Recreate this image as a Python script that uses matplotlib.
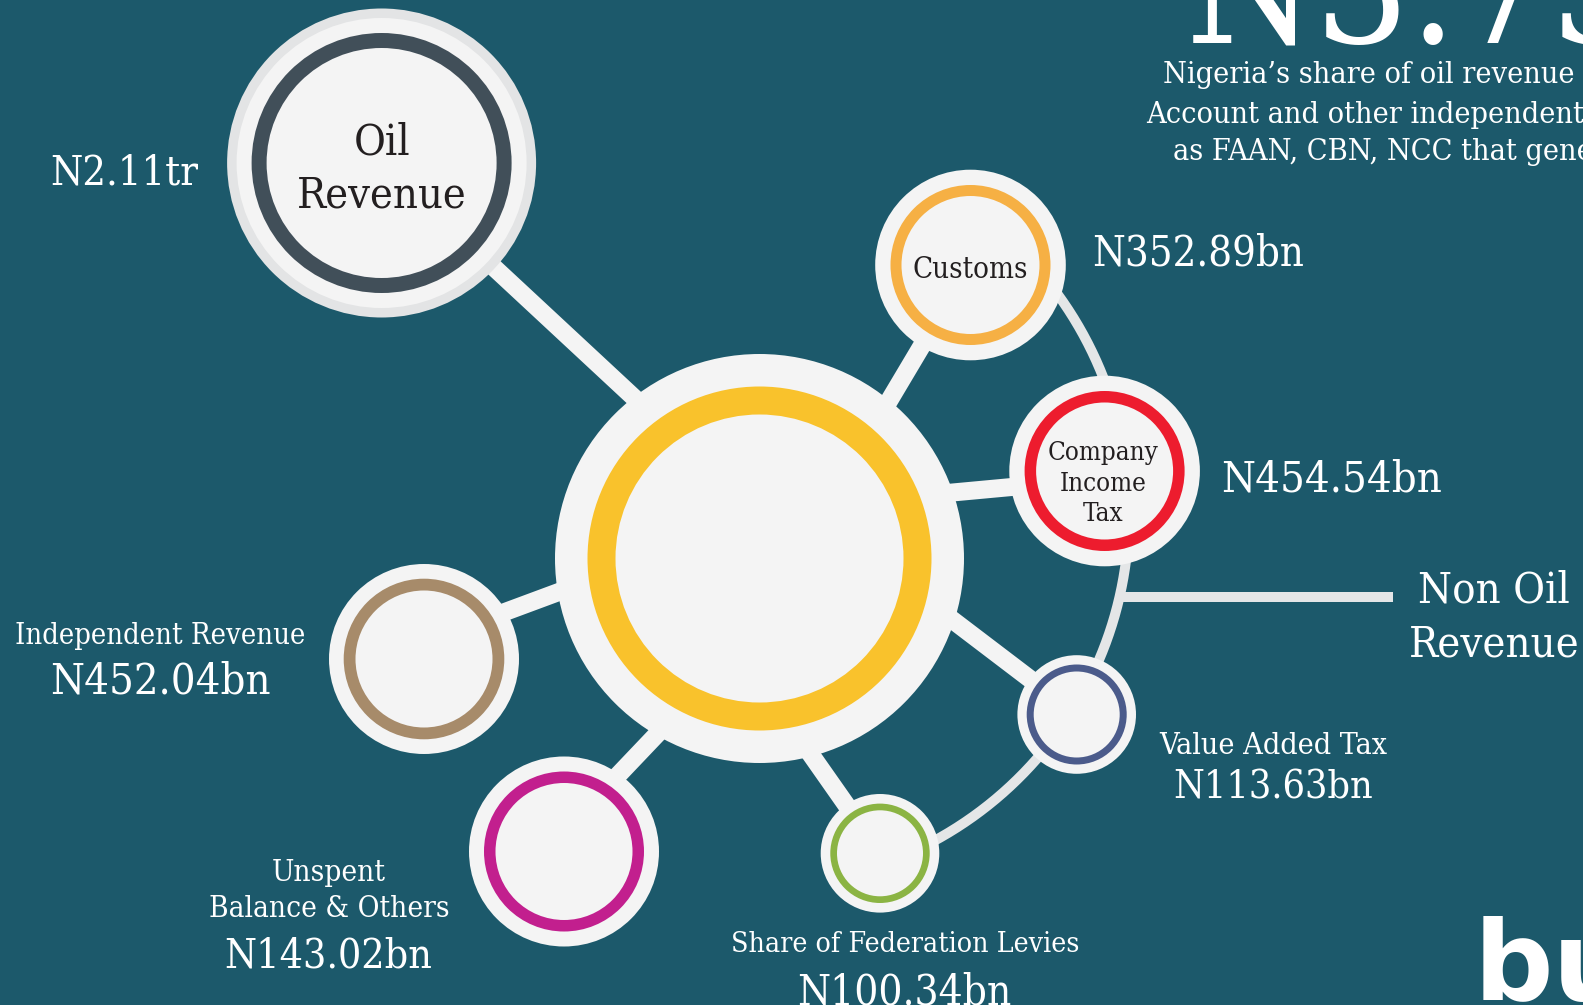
import matplotlib
matplotlib.use("Agg")
import matplotlib.pyplot as plt
from matplotlib.patches import Circle
import numpy as np

# ---------------- data ----------------
categories = ["Oil Revenue", "Customs", "Company Income Tax", "Independent Revenue",
              "Unspent Balance & Others", "Value Added Tax", "Share of Federation Levies"]
values_bn = [2110.0, 352.89, 454.54, 452.04, 143.02, 113.63, 100.34]
total_label = "N3.73tr"
intro_lines = ["Nigeria\u2019s share of oil revenue from the Federation",
               "Account and other independent revenue sources such",
               "as FAAN, CBN, NCC that generate revenue"]


def money(v):
    return f"N{v/1000:.2f}tr" if v >= 1000 else f"N{v:.2f}bn"


value_labels = [money(v) for v in values_bn]

# ---------------- style / layout ----------------
W, H = 1583, 1005
BG = "#1c596b"
WHITE = "#f4f4f4"
LINE = "#e4e6e7"
DARK = "#231f20"
FONT = ["DejaVu Serif Condensed", "DejaVu Serif"]
STRETCH = "condensed"

# node layout: centre x, centre y, outer radius, ring outer, ring inner, ring colour
nodes = {
    "Oil Revenue": (381.6, 163.0, 145.0, 130.0, 115.0, "#414f59"),
    "Customs": (970.5, 265.0, 95.3, 80.0, 69.0, "#f6b044"),
    "Company Income Tax": (1104.6, 471.0, 95.3, 80.0, 68.5, "#ed1c2e"),
    "Independent Revenue": (424.0, 659.0, 95.0, 80.3, 68.5, "#a78b6a"),
    "Unspent Balance & Others": (564.0, 851.5, 95.0, 80.0, 68.5, "#c21f8e"),
    "Value Added Tax": (1076.7, 714.5, 59.3, 50.0, 43.0, "#4b5b8b"),
    "Share of Federation Levies": (880.0, 853.3, 59.3, 49.7, 43.0, "#8bb443"),
}
hub = (759.5, 558.5, 204.5, 172.0, 144.0, "#f9c22c")
# spoke end points (start inside node, end inside hub)
spokes = {
    "Oil Revenue": ((381.6, 163.0), (700, 459)),
    "Customs": ((969.0, 266.5), (850, 466.5)),
    "Company Income Tax": ((1104.6, 478.4), (850, 502)),
    "Independent Revenue": ((424.0, 642.0), (680, 547)),
    "Unspent Balance & Others": ((564.0, 832.0), (720, 668)),
    "Share of Federation Levies": ((880.0, 853.0), (760, 682)),
    "Value Added Tax": ((1076.7, 714.5), (850, 542)),
}
arc_c, arc_r, arc_t0, arc_t1 = (756.5, 513.5), 372.5, -45, 66

fig = plt.figure(figsize=(W / 100, H / 100), dpi=100)
fig.patch.set_facecolor(BG)
ax = fig.add_axes([0, 0, 1, 1])
ax.set_xlim(0, W)
ax.set_ylim(H, 0)
ax.axis("off")
ax.set_facecolor(BG)
renderer = fig.canvas.get_renderer()

PT = 72 / 100  # points per pixel

# arc connecting non-oil nodes
th = np.radians(np.linspace(arc_t0, arc_t1, 300))
ax.plot(arc_c[0] + arc_r * np.cos(th), arc_c[1] + arc_r * np.sin(th),
        color=LINE, lw=10 * PT, solid_capstyle="butt", zorder=1)
# non-oil branch
y_no = 597
x_arc = arc_c[0] + np.sqrt(arc_r ** 2 - (y_no - arc_c[1]) ** 2)
ax.plot([x_arc - 4, 1393], [y_no, y_no], color=LINE, lw=10 * PT,
        solid_capstyle="butt", zorder=1)

# spokes
for name, (p0, p1) in spokes.items():
    ax.plot([p0[0], p1[0]], [p0[1], p1[1]], color=WHITE, lw=18 * PT,
            solid_capstyle="butt", zorder=2)


def ring_node(cx, cy, R, r1, r2, col, z=3):
    ax.add_patch(Circle((cx, cy), R, color=WHITE, lw=0, zorder=z))
    ax.add_patch(Circle((cx, cy), r1, color=col, lw=0, zorder=z))
    ax.add_patch(Circle((cx, cy), r2, color=WHITE, lw=0, zorder=z))


# oil node has a soft grey halo
ox, oy = nodes["Oil Revenue"][:2]
ax.add_patch(Circle((ox, oy), 154.5, color="#e3e4e5", lw=0, zorder=3))
for name, (cx, cy, R, r1, r2, col) in nodes.items():
    ring_node(cx, cy, R, r1, r2, col)
ring_node(*hub)


def txt(x, y, s, width=None, size=None, color="white", ha="center", ref=None,
        family=FONT, stretch=STRETCH, weight="normal"):
    kw = dict(family=family, fontstretch=stretch, fontweight=weight)
    if size is None:
        m = ax.text(0, 0, ref or s, fontsize=20, **kw)
        w = m.get_window_extent(renderer).width
        m.remove()
        size = 20 * width / w
    ax.text(x, y, s, fontsize=size, color=color, ha=ha, va="baseline",
            zorder=6, **kw)
    return size


lab = dict(zip(categories, value_labels))

# Oil
txt(124, 184.8, lab["Oil Revenue"], width=147)
s = txt(381.6, 207, "Revenue", width=170, color=DARK)
txt(381.6, 154.5, "Oil", size=s, color=DARK)
# Customs
txt(970.5, 277.6, "Customs", width=115, color=DARK)
txt(1092.4, 265.5, lab["Customs"], width=212, ha="left")
# CIT
s = txt(1103.5, 460.4, "Company", width=111, color=DARK)
txt(1103.5, 490.7, "Income", size=s, color=DARK)
txt(1103.5, 521, "Tax", size=s, color=DARK)
big = txt(1221.6, 491.7, lab["Company Income Tax"], width=220, ha="left")
# Non oil
txt(1494, 602.7, "Non Oil", size=big)
txt(1494, 656, "Revenue", size=big)
# Independent
txt(160, 644, "Independent Revenue", width=290)
txt(160.5, 693.6, lab["Independent Revenue"], width=220)
# Unspent
s = txt(329, 916.7, "Balance & Others", width=240)
txt(329, 881.4, "Unspent", size=s)
txt(328, 967.2, lab["Unspent Balance & Others"], width=208)
# VAT
txt(1273, 754, "Value Added Tax", width=228)
txt(1273, 798.6, lab["Value Added Tax"], width=199)
# Share of federation levies
txt(905.6, 952, "Share of Federation Levies", width=349)
txt(904.6, 1004, lab["Share of Federation Levies"], width=214)

# top-right headline and intro
txt(1186, 43.3, total_label, width=272, ha="left", ref="N3.")
s = txt(1163.3, 83.3, intro_lines[0], width=412, ha="left",
        ref="Nigeria\u2019s share of oil revenue")
txt(1146, 122.7, intro_lines[1], size=s, ha="left")
txt(1172.7, 160, intro_lines[2], size=s, ha="left")

# logo fragment
ax.text(1474, 1000, "bu", fontsize=80, color="white", family="DejaVu Sans",
        fontweight="bold", ha="left", va="baseline", zorder=6)

fig.savefig("out.png", dpi=100, facecolor=BG)
